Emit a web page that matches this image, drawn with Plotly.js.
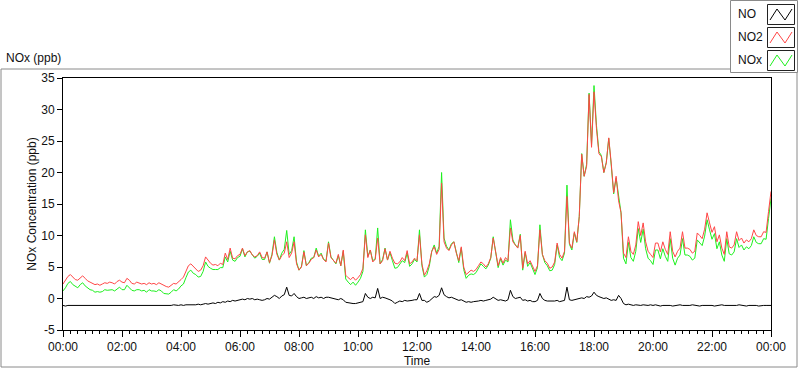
<!DOCTYPE html>
<html>
<head>
<meta charset="utf-8">
<script src="https://cdn.plot.ly/plotly-3.0.1.min.js"></script>
<style>html,body{margin:0;padding:0;background:#fff;}#chart{width:800px;height:369px;}</style>
</head>
<body>
<div id="chart"></div>
<script>
// ---- data (5-minute samples, 00:00 .. 24:00) ----
const startTime = '2024-01-01T00:00:00';
const stepMinutes = 5;
const seriesNames = ['NO', 'NO2', 'NOx'];

const no2 = [
 2.3,2.9,3.5,3.8,3.4,3.0,2.9,3.3,3.6,3.2,2.8,2.6,
 2.4,2.2,2.3,2.1,2.3,2.5,2.4,2.6,2.5,2.3,2.7,2.9,
 2.6,2.5,3.2,2.9,2.4,2.3,2.6,2.5,2.3,2.4,2.2,2.5,
 2.3,2.4,2.2,2.5,2.3,2.0,1.9,1.8,2.1,2.4,2.3,2.6,
 3.0,3.4,4.3,5.2,5.5,5.1,4.8,4.3,4.5,5.2,6.6,6.0,
 5.6,5.3,5.4,5.2,5.6,5.4,7.2,6.2,8.0,6.4,6.3,6.8,
 7.0,8.0,6.8,7.4,7.6,6.9,6.6,6.8,7.4,6.5,6.4,7.4,
 5.7,6.8,9.3,7.0,6.1,6.8,7.2,9.0,6.5,7.2,9.0,5.5,
 4.5,5.0,7.4,5.2,5.6,6.2,6.5,7.7,6.6,7.0,6.2,5.8,
 8.8,6.5,6.0,5.6,7.0,5.2,7.7,3.7,3.3,3.0,3.4,2.9,
 3.3,3.8,4.8,10.1,6.5,7.7,5.8,6.2,9.6,5.5,6.0,7.9,
 6.1,7.5,6.4,5.6,5.5,5.8,6.5,6.0,7.6,5.5,5.8,6.4,
 6.0,10.1,5.5,3.7,4.4,5.5,7.5,8.2,7.0,7.8,18.3,9.0,
 8.0,7.6,8.5,9.0,7.2,6.0,8.2,5.0,3.8,4.2,4.5,4.3,
 4.6,5.2,5.8,5.5,5.0,5.5,6.5,9.6,7.0,5.2,6.5,5.6,
 6.5,6.0,11.2,9.0,8.5,8.0,10.0,4.8,7.5,5.5,6.0,5.2,
 4.3,5.2,10.9,7.0,6.0,5.6,4.8,5.0,5.8,8.8,7.0,6.4,
 7.5,16.2,8.8,8.0,10.6,9.0,13.0,22.9,19.4,21.0,32.4,24.0,
 32.8,27.0,23.0,22.5,20.0,21.5,25.5,21.5,16.8,19.4,15.5,13.6,
 7.2,6.5,9.8,7.5,7.0,8.5,12.2,10.0,12.0,9.0,7.5,7.0,
 6.5,8.8,8.8,7.4,9.0,7.8,7.0,10.6,7.5,6.6,7.5,8.0,
 10.6,8.0,8.0,7.8,7.2,7.5,10.4,10.0,9.5,11.0,13.6,12.0,
 10.5,11.4,9.0,10.1,8.0,7.0,10.6,8.2,8.0,8.5,10.6,9.2,
 9.6,8.8,9.3,9.0,9.5,10.9,10.0,9.8,9.8,10.6,10.5,13.8,
 17.0
];

const no = [
 -1.1,-1.2,-1.1,-1.1,-1.2,-1.1,-1.2,-1.1,-1.1,-1.2,-1.1,-1.2,
 -1.1,-1.2,-1.2,-1.1,-1.2,-1.1,-1.1,-1.2,-1.1,-1.1,-1.2,-1.1,
 -1.2,-1.1,-1.1,-1.2,-1.1,-1.1,-1.2,-1.1,-1.1,-1.1,-1.2,-1.1,
 -1.1,-1.2,-1.1,-1.1,-1.1,-1.2,-1.1,-1.1,-1.1,-1.0,-1.1,-1.1,
 -1.0,-1.1,-1.0,-1.0,-1.0,-1.1,-1.0,-0.9,-1.0,-0.9,-0.8,-0.9,
 -0.8,-0.7,-0.8,-0.6,-0.7,-0.5,-0.6,-0.4,-0.5,-0.3,-0.4,-0.3,
 -0.3,-0.1,-0.2,0.0,-0.1,0.0,-0.2,-0.1,-0.2,-0.3,-0.2,0.0,
 -0.1,0.2,0.5,0.3,0.0,0.4,0.6,1.8,0.5,0.4,0.8,0.3,
 0.0,0.1,0.2,0.0,0.1,0.2,0.0,0.3,0.1,0.2,0.0,0.2,
 0.2,0.1,0.0,-0.1,-0.2,0.0,-0.2,-0.6,-0.7,-0.8,-0.8,-0.8,
 -0.7,-0.6,-0.5,0.8,0.2,0.0,0.2,0.1,1.6,0.0,0.2,0.1,
 0.0,-0.2,-0.4,-0.8,-0.6,-0.4,-0.5,-0.3,-0.4,-0.4,-0.3,-0.2,
 -0.2,0.8,-0.3,-0.3,-0.6,-0.4,0.0,0.3,0.2,0.5,1.7,0.6,
 0.3,0.1,0.2,0.0,-0.1,-0.3,-0.2,-0.4,-0.6,-0.5,-0.6,-0.5,
 -0.5,-0.4,-0.3,-0.4,-0.3,-0.2,-0.1,0.2,0.0,-0.3,-0.2,-0.3,
 -0.4,-0.2,1.3,0.3,0.0,0.1,0.2,-0.3,-0.2,-0.4,-0.3,-0.5,
 -0.5,-0.3,0.8,0.0,-0.3,-0.4,-0.4,-0.5,-0.4,-0.3,-0.5,-0.4,
 -0.3,1.8,-0.2,-0.3,-0.2,-0.1,0.0,0.1,0.0,0.3,0.2,0.4,
 1.0,0.5,0.3,0.2,0.0,0.1,-0.1,-0.3,-0.2,-0.3,0.5,0.0,
 -0.8,-1.0,-0.9,-1.0,-1.1,-1.0,-1.1,-1.1,-1.0,-1.1,-1.1,-1.0,
 -1.1,-1.0,-1.1,-1.2,-1.1,-1.1,-1.0,-1.1,-1.2,-1.1,-1.1,-1.0,
 -1.1,-1.1,-1.2,-1.1,-1.0,-1.1,-1.1,-1.2,-1.1,-1.1,-1.0,-1.1,
 -1.1,-1.2,-1.1,-1.1,-1.0,-1.1,-1.1,-1.1,-1.2,-1.1,-1.1,-1.0,
 -1.1,-1.1,-1.2,-1.1,-1.1,-1.0,-1.1,-1.2,-1.1,-1.1,-1.1,-1.1,
 -1.1
];

const nox = [
 1.2,1.7,2.4,2.7,2.2,1.9,1.7,2.2,2.5,2.0,1.7,1.4,
 1.3,1.0,1.1,1.0,1.1,1.4,1.3,1.4,1.4,1.2,1.5,1.8,
 1.4,1.4,2.1,1.7,1.3,1.2,1.4,1.4,1.2,1.3,1.0,1.4,
 1.2,1.2,1.1,1.4,1.2,0.8,0.8,0.7,1.0,1.4,1.2,1.5,
 2.0,2.3,3.3,4.2,4.5,4.0,3.8,3.4,3.5,4.3,5.8,5.1,
 4.8,4.6,4.6,4.6,4.9,4.9,6.6,5.8,7.5,6.1,5.9,6.5,
 6.7,7.9,6.6,7.4,7.5,6.9,6.4,6.7,7.2,6.2,6.2,7.4,
 5.6,7.0,9.8,7.3,6.1,7.2,7.8,10.8,7.0,7.6,9.8,5.8,
 4.5,5.1,7.6,5.2,5.7,6.4,6.5,8.0,6.7,7.2,6.2,6.0,
 9.0,6.6,6.0,5.5,6.8,5.2,7.5,3.1,2.6,2.2,2.6,2.1,
 2.6,3.2,4.3,10.9,6.7,7.7,6.0,6.3,11.2,5.5,6.2,8.0,
 6.1,7.3,6.0,4.8,4.9,5.4,6.0,5.7,7.2,5.1,5.5,6.2,
 5.8,10.9,5.2,3.4,3.8,5.1,7.5,8.5,7.2,8.3,20.0,9.6,
 8.3,7.7,8.7,9.0,7.1,5.7,8.0,4.6,3.2,3.7,3.9,3.8,
 4.1,4.8,5.5,5.1,4.7,5.3,6.4,9.8,7.0,4.9,6.3,5.3,
 6.1,5.8,12.5,9.3,8.5,8.1,10.2,4.5,7.3,5.1,5.7,4.7,
 3.8,4.9,11.7,7.0,5.7,5.2,4.4,4.5,5.4,8.5,6.5,6.0,
 7.2,18.0,8.6,7.7,10.4,8.9,13.0,23.0,19.4,21.3,32.6,24.4,
 33.8,27.5,23.3,22.7,20.0,21.6,25.4,21.2,16.6,19.1,16.0,13.6,
 6.4,5.5,8.9,6.5,5.9,7.5,11.1,8.9,11.0,7.9,6.4,6.0,
 5.4,7.7,7.7,6.3,7.9,6.7,5.9,9.5,6.4,5.3,6.4,6.9,
 9.5,6.9,6.9,6.7,6.1,6.4,9.3,8.9,8.4,9.9,12.5,10.9,
 9.4,10.3,7.9,9.0,6.9,5.9,9.5,7.1,6.9,7.4,9.5,8.1,
 8.5,7.7,8.2,7.9,8.4,9.8,8.9,8.7,8.7,9.5,9.4,12.7,
 15.9
];

const yTickVals = [-5, 0, 5, 10, 15, 20, 25, 30, 35];

// ---- time stamps ----
function pad(n){return (n<10?'0':'')+n;}
const t0 = new Date(startTime);
const times = no2.map(function(_, i){
  const d = new Date(t0.getTime() + i*stepMinutes*60000);
  return d.getFullYear()+'-'+pad(d.getMonth()+1)+'-'+pad(d.getDate())+' '+pad(d.getHours())+':'+pad(d.getMinutes());
});

const FONT = 'Liberation Sans, Arial, sans-serif';
const colors = {NO:'#000000', NO2:'#ff4646', NOx:'#1ef01e'};

const traces = [
  {x: times, y: no,  name: seriesNames[0], mode:'lines', line:{color:colors.NO,  width:1}},
  {x: times, y: nox, name: seriesNames[2], mode:'lines', line:{color:colors.NOx, width:1}},
  {x: times, y: no2, name: seriesNames[1], mode:'lines', line:{color:colors.NO2, width:1}}
];

// pixel helpers for decoration (frame & custom legend)
const L=63, T=78, W=708, H=252;
function px(x){return (x-L)/W;}
function py(y){return (T+H-y)/H;}

const shapes = [
  {type:'rect', xref:'paper', yref:'paper', x0:px(1), x1:px(797), y0:py(367), y1:py(69),
   line:{color:'#8a8a8a', width:1}, fillcolor:'rgba(0,0,0,0)', layer:'below'},
  {type:'rect', xref:'paper', yref:'paper', x0:px(730.5), x1:px(797.5), y0:py(72.5), y1:py(0.5),
   line:{color:'#8a8a8a', width:1}, fillcolor:'#ffffff', layer:'above'}
];
const legendRows = [{name:seriesNames[0], c:colors.NO, y:14},{name:seriesNames[1], c:colors.NO2, y:37},{name:seriesNames[2], c:colors.NOx, y:60}];
const annotations = [
  {text:'NOx (ppb)', xref:'paper', yref:'paper', x:px(4), y:py(58), xanchor:'left', yanchor:'middle',
   showarrow:false, font:{family:FONT, size:12, color:'#111'}}
];
legendRows.forEach(function(r){
  shapes.push({type:'rect', xref:'paper', yref:'paper', x0:px(767.5), x1:px(794.5), y0:py(r.y+10.5), y1:py(r.y-9.5),
    line:{color:'#222', width:1}, fillcolor:'#fff', layer:'above'});
  const pts = [[770,r.y+6],[777,r.y-5],[785,r.y+6],[792,r.y-5]];
  let p = 'M'+pts.map(function(q){return px(q[0])+','+py(q[1]);}).join(' L');
  shapes.push({type:'path', xref:'paper', yref:'paper', path:p, line:{color:r.c, width:1}, layer:'above'});
  annotations.push({text:r.name, xref:'paper', yref:'paper', x:px(736), y:py(r.y), xanchor:'left', yanchor:'middle',
    showarrow:false, font:{family:FONT, size:12, color:'#111'}});
});

const layout = {
  width:800, height:369,
  margin:{l:L, r:800-L-W, t:T, b:369-T-H, pad:0},
  paper_bgcolor:'#ffffff', plot_bgcolor:'#ffffff',
  showlegend:false,
  font:{family:FONT, size:12, color:'#111'},
  xaxis:{
    type:'date', range:[times[0], times[times.length-1]],
    tickformat:'%H:%M', dtick:7200000, tick0:times[0],
    ticks:'outside', ticklen:6, tickwidth:1, tickcolor:'#000',
    minor:{dtick:900000, ticks:'outside', ticklen:3, tickcolor:'#000', showgrid:false},
    showline:true, linecolor:'#000', linewidth:1, mirror:true,
    showgrid:false, zeroline:false, automargin:false,
    tickfont:{family:FONT, size:12, color:'#111'},
    title:{text:'Time', font:{family:FONT, size:12, color:'#111'}, standoff:2}
  },
  yaxis:{
    range:[-5,35], tickvals:yTickVals, ticktext:yTickVals.map(String),
    ticks:'outside', ticklen:5, tickwidth:1, tickcolor:'#000',
    showline:true, linecolor:'#000', linewidth:1, mirror:true,
    showgrid:false, zeroline:false, automargin:false,
    tickfont:{family:FONT, size:12, color:'#111'},
    title:{text:'NOx Concentration (ppb)', font:{family:FONT, size:12, color:'#111'}, standoff:2}
  },
  shapes:shapes,
  annotations:annotations
};

Plotly.newPlot('chart', traces, layout, {staticPlot:true, displayModeBar:false});
</script>
</body>
</html>
